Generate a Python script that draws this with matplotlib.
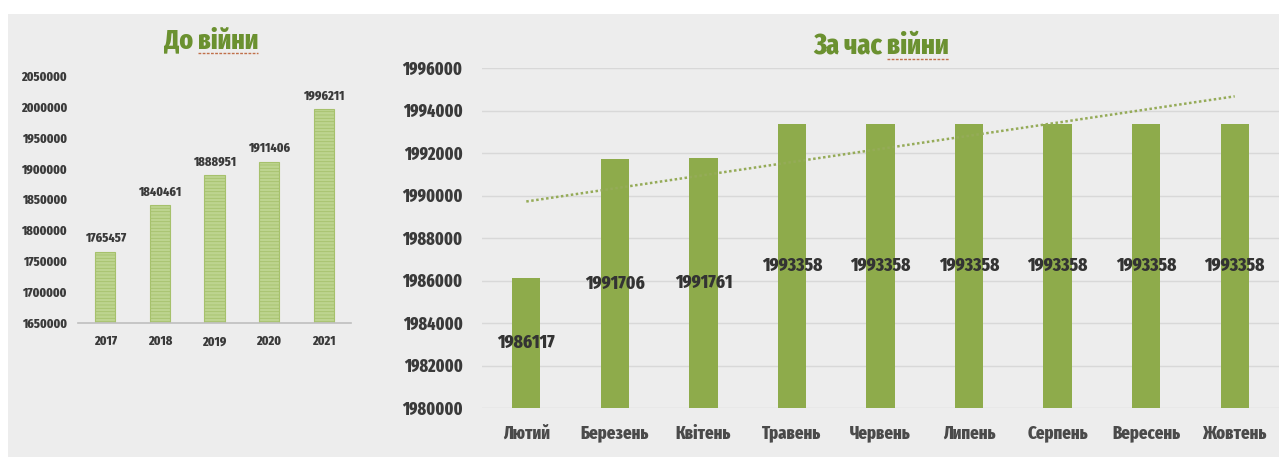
import matplotlib
matplotlib.use("Agg")
import matplotlib.pyplot as plt
from matplotlib import font_manager as fm
from matplotlib.patches import Rectangle
import numpy as np

# ---------------- data ----------------
years = ["2017", "2018", "2019", "2020", "2021"]
prewar_values = [1765457, 1840461, 1888951, 1911406, 1996211]

months = ["Лютий", "Березень", "Квітень", "Травень", "Червень",
          "Липень", "Серпень", "Вересень", "Жовтень"]
war_values = [1986117, 1991706, 1991761, 1993358, 1993358,
              1993358, 1993358, 1993358, 1993358]

title_left = "До війни"
title_right = "За час війни"

# ---------------- fonts ----------------
available = {f.name for f in fm.fontManager.ttflist}
cands = ["Fira Sans Extra Condensed", "PT Sans Narrow", "Roboto Condensed", "DejaVu Sans"]
main_font = next((c for c in cands if c in available), "DejaVu Sans")
FAM = [main_font, "DejaVu Sans"]
plt.rcParams["font.family"] = FAM
plt.rcParams["hatch.linewidth"] = 0.6
W8 = 800

TXT = "#3a3a3a"
GREEN_T = "#6b9130"
BAR_R = "#8eab4b"
BAR_L = "#bdd48f"
BAR_L_EDGE = "#a6c16c"

fig = plt.figure(figsize=(12.79, 4.57), dpi=100, facecolor="#ededed")
fig.patches.append(Rectangle((0, 1 - 14 / 457), 1, 14 / 457, transform=fig.transFigure,
                             facecolor="white", edgecolor="none", zorder=0))
fig.patches.append(Rectangle((0, 0), 8 / 1279, 1, transform=fig.transFigure,
                             facecolor="white", edgecolor="none", zorder=0))

# ---------------- left chart ----------------
axL = fig.add_axes([78 / 1279, 1 - 323 / 457, (351 - 78) / 1279, (323 - 76) / 457])
axL.set_facecolor("none")
xl = np.arange(len(years))
axL.bar(xl, prewar_values, width=0.37, color=BAR_L, edgecolor=BAR_L_EDGE,
        linewidth=0.8, hatch="-----", zorder=2)
axL.set_xlim(-0.5, len(years) - 0.5)
axL.set_ylim(1650000, 2050000)
ticksL = np.arange(1650000, 2050001, 50000)
axL.set_yticks(ticksL)
axL.set_yticklabels([f"{v:d}" for v in ticksL])
axL.set_xticks(xl)
axL.set_xticklabels(years)
for s in ["top", "right", "left"]:
    axL.spines[s].set_visible(False)
axL.spines["bottom"].set_color("#bfbfbf")
axL.spines["bottom"].set_linewidth(1.2)
axL.tick_params(axis="both", length=0, colors=TXT, labelsize=9.5)
axL.tick_params(axis="y", pad=8)
axL.tick_params(axis="x", pad=9)
for lab in axL.get_xticklabels() + axL.get_yticklabels():
    lab.set_fontweight(W8)
for x, v in zip(xl, prewar_values):
    axL.annotate(f"{v}", (x, v), xytext=(0, 5), textcoords="offset points",
                 ha="center", va="bottom", fontsize=9.5, fontweight=W8, color=TXT)

# ---------------- right chart ----------------
axR = fig.add_axes([482 / 1279, 1 - 408 / 457, (1279 - 482) / 1279, (408 - 68) / 457])
axR.set_facecolor("none")
xr = np.arange(len(months))
axR.bar(xr, war_values, width=0.32, color=BAR_R, edgecolor="none", zorder=2)
axR.set_xlim(-0.5, len(months) - 0.5)
axR.set_ylim(1980000, 1996000)
ticksR = np.arange(1980000, 1996001, 2000)
axR.set_yticks(ticksR)
axR.set_yticklabels([f"{v:d}" for v in ticksR])
axR.set_xticks(xr)
axR.set_xticklabels(months)
axR.yaxis.grid(True, color="#d8d8d8", linewidth=1.0, zorder=0)
axR.set_axisbelow(True)
for s in axR.spines.values():
    s.set_visible(False)
axR.tick_params(axis="both", length=0, colors=TXT, labelsize=12.5)
axR.tick_params(axis="y", pad=14)
axR.tick_params(axis="x", pad=12, labelsize=13)
for lab in axR.get_xticklabels() + axR.get_yticklabels():
    lab.set_fontweight(W8)
for lab in axR.get_xticklabels():
    lab.set_color("#4a4a4a")
y0 = 1980000
for x, v in zip(xr, war_values):
    axR.text(x, (v + y0) / 2, f"{v}", ha="center", va="center",
             fontsize=13.5, fontweight=W8, color="#333333", zorder=4)
coef = np.polyfit(xr, war_values, 1)
axR.plot(xr, np.polyval(coef, xr), linestyle=(0, (1, 1)), color="#95ab58",
         linewidth=1.8, zorder=3)

# ---------------- titles ----------------
def title_with_underline(cx, cy, full, prefix, size):
    t = fig.text(cx, cy, full, ha="center", va="center", fontsize=size,
                 fontweight=W8, color=GREEN_T)
    fig.canvas.draw()
    r = fig.canvas.get_renderer()
    bb = t.get_window_extent(r)
    tmp = fig.text(0, 0, prefix, fontsize=size, fontweight=W8)
    pw = tmp.get_window_extent(r).width
    tmp.remove()
    W, H = fig.bbox.width, fig.bbox.height
    x0 = (bb.x0 + pw) / W
    x1 = bb.x1 / W
    yy = (bb.y0 + 1) / H
    fig.lines.append(plt.Line2D([x0, x1], [yy, yy], transform=fig.transFigure,
                                color="#c0704a", linewidth=1.0,
                                linestyle=(0, (2, 1))))

title_with_underline(211 / 1279, 1 - 41 / 457, title_left, "До ", 20)
title_with_underline(881 / 1279, 1 - 46 / 457, title_right, "За час ", 20.5)

fig.savefig("out.png", dpi=100, facecolor=fig.get_facecolor())
